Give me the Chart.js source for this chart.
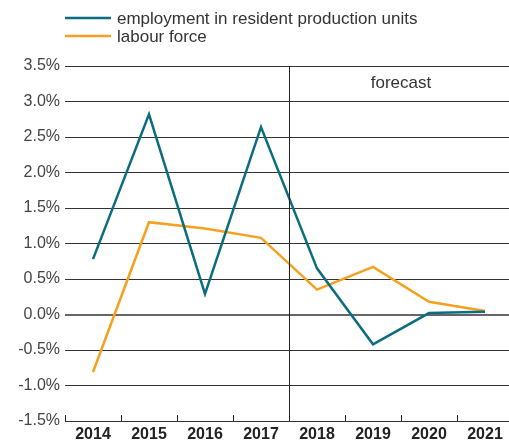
<!DOCTYPE html>
<html><head><meta charset="utf-8">
<script src="https://cdn.jsdelivr.net/npm/chart.js@4/dist/chart.umd.min.js"></script>
<style>html,body{margin:0;padding:0;background:#fff;overflow:hidden;width:509px;height:441px}
#wrap{position:relative;width:513px;height:441px}</style>
</head><body><div id="wrap"><canvas id="c" width="513" height="441"></canvas></div>
<script>
const categories = ['2014','2015','2016','2017','2018','2019','2020','2021'];
const employment = [0.78, 2.82, 0.29, 2.64, 0.65, -0.42, 0.02, 0.04];
const labourForce = [-0.81, 1.30, 1.21, 1.08, 0.35, 0.67, 0.18, 0.05];
const seriesNames = ['employment in resident production units', 'labour force'];
const seriesColors = ['#0b6e80', '#f5a11f'];
const yTicks = [-1.5, -1.0, -0.5, 0.0, 0.5, 1.0, 1.5, 2.0, 2.5, 3.0, 3.5];
const forecastLabel = 'forecast';
const forecastStartIndex = 4;

const FONT = "'Liberation Sans', Arial, sans-serif";

const extras = {
  id: 'extras',
  afterDatasetsDraw(chart) {
    const ctx = chart.ctx, x = chart.scales.x, y = chart.scales.y, a = chart.chartArea;
    ctx.save();
    ctx.strokeStyle = '#222'; ctx.lineWidth = 1;
    const step = x.getPixelForValue(1) - x.getPixelForValue(0);
    for (let i = 0; i < categories.length; i++) {
      const px = Math.round(x.getPixelForValue(i) - step / 2) + 0.5;
      ctx.beginPath(); ctx.moveTo(px, a.bottom); ctx.lineTo(px, a.bottom - 6); ctx.stroke();
    }
    const fx = Math.round(x.getPixelForValue(forecastStartIndex) - step / 2) + 0.5;
    ctx.beginPath(); ctx.moveTo(fx, a.top); ctx.lineTo(fx, a.bottom); ctx.stroke();
    ctx.fillStyle = '#333'; ctx.font = '17px ' + FONT;
    ctx.textAlign = 'center'; ctx.textBaseline = 'middle';
    ctx.fillText(forecastLabel, (x.getPixelForValue(5) + x.getPixelForValue(6)) / 2, y.getPixelForValue(3.26));
    ctx.textAlign = 'left';
    ctx.font = '17px ' + FONT;
    seriesNames.forEach((n, i) => {
      const ly = 18 + i * 18;
      ctx.strokeStyle = seriesColors[i]; ctx.lineWidth = 2.5;
      ctx.beginPath(); ctx.moveTo(65, ly); ctx.lineTo(111, ly); ctx.stroke();
      ctx.fillStyle = '#333';
      ctx.fillText(n, 117, ly + 1.5);
    });
    ctx.restore();
  }
};

new Chart(document.getElementById('c'), {
  type: 'line',
  data: {
    labels: categories,
    datasets: [
      { label: seriesNames[0], data: employment, borderColor: seriesColors[0], borderWidth: 2.5, pointRadius: 0, tension: 0, fill: false },
      { label: seriesNames[1], data: labourForce, borderColor: seriesColors[1], borderWidth: 2.5, pointRadius: 0, tension: 0, fill: false }
    ]
  },
  options: {
    responsive: false,
    animation: false,
    layout: { padding: { top: 66, left: 0, right: 0, bottom: 0 } },
    plugins: { legend: { display: false }, tooltip: { enabled: false } },
    scales: {
      x: {
        offset: true,
        grid: { display: false, offset: true, drawTicks: false },
        border: { display: false },
        ticks: { color: '#222', font: { family: FONT, size: 16, weight: 'bold' }, padding: 4, maxRotation: 0, autoSkip: false },
        afterFit(s) { s.height = 20; }
      },
      y: {
        min: -1.5, max: 3.5,
        afterBuildTicks(s) { s.ticks = yTicks.map(v => ({ value: v })); },
        grid: {
          drawTicks: false,
          color: ctx => (ctx.tick && ctx.tick.value === 0) ? '#666' : '#333',
          lineWidth: ctx => (ctx.tick && ctx.tick.value === 0) ? 2 : 1
        },
        border: { display: false },
        ticks: { color: '#444', font: { family: FONT, size: 16 }, padding: 5, callback: v => v.toFixed(1) + '%' },
        afterFit(s) { s.width = 65; }
      }
    }
  },
  plugins: [extras]
});
</script></body></html>
